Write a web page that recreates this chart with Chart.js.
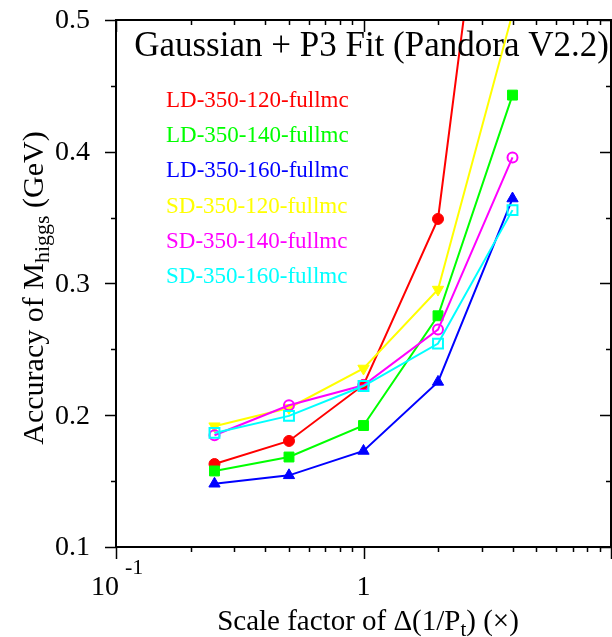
<!DOCTYPE html>
<html>
<head>
<meta charset="utf-8">
<script src="https://cdn.jsdelivr.net/npm/chart.js@4"></script>
<style>
  html, body { margin: 0; padding: 0; background: #fff; overflow: hidden; }
  #wrap { width: 620px; height: 637px; }
</style>
</head>
<body>
<div id="wrap"><canvas id="js-accuracy-chart" width="620" height="637"></canvas></div>
<script>
// scale factors of delta(1/Pt)
const scaleFactors = [0.25, 0.5, 1, 2, 4];

const seriesNames = [
  "LD-350-120-fullmc",
  "LD-350-140-fullmc",
  "LD-350-160-fullmc",
  "SD-350-120-fullmc",
  "SD-350-140-fullmc",
  "SD-350-160-fullmc",
];

// accuracy of M_higgs (GeV)
const ld120 = [0.163, 0.1805, 0.223, 0.349, 0.79];
const ld140 = [0.1577, 0.1683, 0.1922, 0.2755, 0.443];
const ld160 = [0.148, 0.1544, 0.1729, 0.2253, 0.3645];
const sd120 = [0.1917, 0.2055, 0.2355, 0.2954, 0.505];
const sd140 = [0.1848, 0.2076, 0.2228, 0.265, 0.3957];
const sd160 = [0.1866, 0.1995, 0.2222, 0.2544, 0.3557];

const yTickLabels = ["0.1", "0.2", "0.3", "0.4", "0.5"];

const serif = "'Liberation Serif', 'DejaVu Serif', serif";

const colors = ["#ff0000", "#00ff00", "#0000ff", "#ffff00", "#ff00ff", "#00ffff"];
const styles = [
  { pointStyle: "circle", radius: 5.5, fill: true, rotation: 0 },
  { pointStyle: "rect", radius: 7, fill: true, rotation: 0 },
  { pointStyle: "triangle", radius: 6.5, fill: true, rotation: 0 },
  { pointStyle: "triangle", radius: 6.5, fill: true, rotation: 180 },
  { pointStyle: "circle", radius: 5, fill: false, rotation: 0 },
  { pointStyle: "rect", radius: 7, fill: false, rotation: 0 },
];

const allValues = [ld120, ld140, ld160, sd120, sd140, sd160];

function makeDataset(i) {
  const st = styles[i];
  return {
    label: seriesNames[i],
    data: scaleFactors.map((x, k) => ({ x: x, y: allValues[i][k] })),
    borderColor: colors[i],
    backgroundColor: st.fill ? colors[i] : "rgba(0,0,0,0)",
    pointBackgroundColor: st.fill ? colors[i] : "rgba(0,0,0,0)",
    pointBorderColor: colors[i],
    pointBorderWidth: st.fill ? 1 : 2,
    pointStyle: st.pointStyle,
    pointRotation: st.rotation,
    pointRadius: st.radius,
    borderWidth: 2,
    tension: 0,
    showLine: true,
    order: 5 - i,
  };
}

// draws "main" + subscript + "rest" centred on cx, returns nothing
function drawSubText(ctx, main, sub, rest, cx, y, size, subSize, drop) {
  ctx.font = size + "px " + serif;
  const w1 = ctx.measureText(main).width;
  const w3 = ctx.measureText(rest).width;
  ctx.font = subSize + "px " + serif;
  const w2 = ctx.measureText(sub).width;
  let x = cx - (w1 + w2 + w3) / 2;
  ctx.textAlign = "left";
  ctx.font = size + "px " + serif;
  ctx.fillText(main, x, y);
  x += w1;
  ctx.font = subSize + "px " + serif;
  ctx.fillText(sub, x, y + drop);
  x += w2;
  ctx.font = size + "px " + serif;
  ctx.fillText(rest, x, y);
}

// frame, tick marks, labels and text legend
const frameAndText = {
  id: "frameAndText",
  afterDraw(chart) {
    const ctx = chart.ctx;
    const { left, right, top, bottom } = chart.chartArea;
    const xs = chart.scales.x;
    const ys = chart.scales.y;
    ctx.save();
    ctx.strokeStyle = "#000";
    ctx.fillStyle = "#000";

    // x ticks: bottom outward, top inward
    ctx.lineWidth = 1.5;
    for (let d = -1; d <= 1; d++) {
      for (let m = 1; m <= 9; m++) {
        const v = m * Math.pow(10, d);
        if (v > 10) continue;
        const px = Math.round(xs.getPixelForValue(v)) + 0.5;
        const len = m === 1 ? 12 : 5;
        ctx.beginPath();
        ctx.moveTo(px, bottom);
        ctx.lineTo(px, bottom + len);
        ctx.moveTo(px, top);
        ctx.lineTo(px, top + len);
        ctx.stroke();
      }
    }

    // y ticks: left outward, right inward
    for (let k = 0; k <= 8; k++) {
      const v = 0.1 + k * 0.05;
      const py = Math.round(ys.getPixelForValue(v)) + 0.5;
      const len = k % 2 === 0 ? 11 : 5;
      ctx.beginPath();
      ctx.moveTo(left - len, py);
      ctx.lineTo(left, py);
      ctx.moveTo(right - len, py);
      ctx.lineTo(right, py);
      ctx.stroke();
    }

    // frame
    ctx.lineWidth = 2;
    ctx.strokeRect(left, top, right - left, bottom - top);

    // y tick labels
    ctx.font = "28px " + serif;
    ctx.textAlign = "right";
    ctx.textBaseline = "middle";
    yTickLabels.forEach((t) => {
      ctx.fillText(t, left - 26, ys.getPixelForValue(parseFloat(t)) + 1);
    });

    // x tick labels
    ctx.textBaseline = "alphabetic";
    ctx.textAlign = "center";
    ctx.fillText("1", xs.getPixelForValue(1), 595);
    const x01 = xs.getPixelForValue(0.1);
    ctx.textAlign = "right";
    ctx.fillText("10", x01 + 3, 595);
    ctx.textAlign = "left";
    ctx.font = "22px " + serif;
    ctx.fillText("-1", x01 + 9, 574);

    // axis titles
    drawSubText(ctx, "Scale factor of \u0394(1/P", "t", ") (\u00d7)", 368, 630, 29, 21, 6);

    ctx.save();
    ctx.translate(43, 288);
    ctx.rotate(-Math.PI / 2);
    drawSubText(ctx, "Accuracy of M", "higgs", " (GeV)", 0, 0, 30, 22, 6);
    ctx.restore();

    // title inside the frame
    ctx.font = "35px " + serif;
    ctx.textAlign = "center";
    ctx.fillText("Gaussian + P3 Fit (Pandora V2.2)", 371.5, 56);

    // text legend
    ctx.font = "23px " + serif;
    ctx.textAlign = "left";
    ctx.textBaseline = "middle";
    chart.data.datasets.forEach((ds, i) => {
      ctx.fillStyle = ds.borderColor;
      ctx.fillText(ds.label, 166, 101 + i * 35.2);
    });

    ctx.restore();
  },
};

const chartEl = document.getElementById("js-accuracy-chart");

const accuracyChart = new Chart(chartEl, {
  type: "scatter",
  data: {
    datasets: seriesNames.map((_, i) => makeDataset(i)),
  },
  options: {
    responsive: false,
    animation: false,
    layout: {
      padding: { left: 116, right: 4, top: 20, bottom: 90 },
    },
    plugins: {
      legend: { display: false },
      tooltip: { enabled: false },
    },
    scales: {
      x: {
        type: "logarithmic",
        min: 0.1,
        max: 10,
        display: false,
      },
      y: {
        type: "linear",
        min: 0.1,
        max: 0.5,
        display: false,
      },
    },
  },
  plugins: [frameAndText],
});
</script>
</body>
</html>
